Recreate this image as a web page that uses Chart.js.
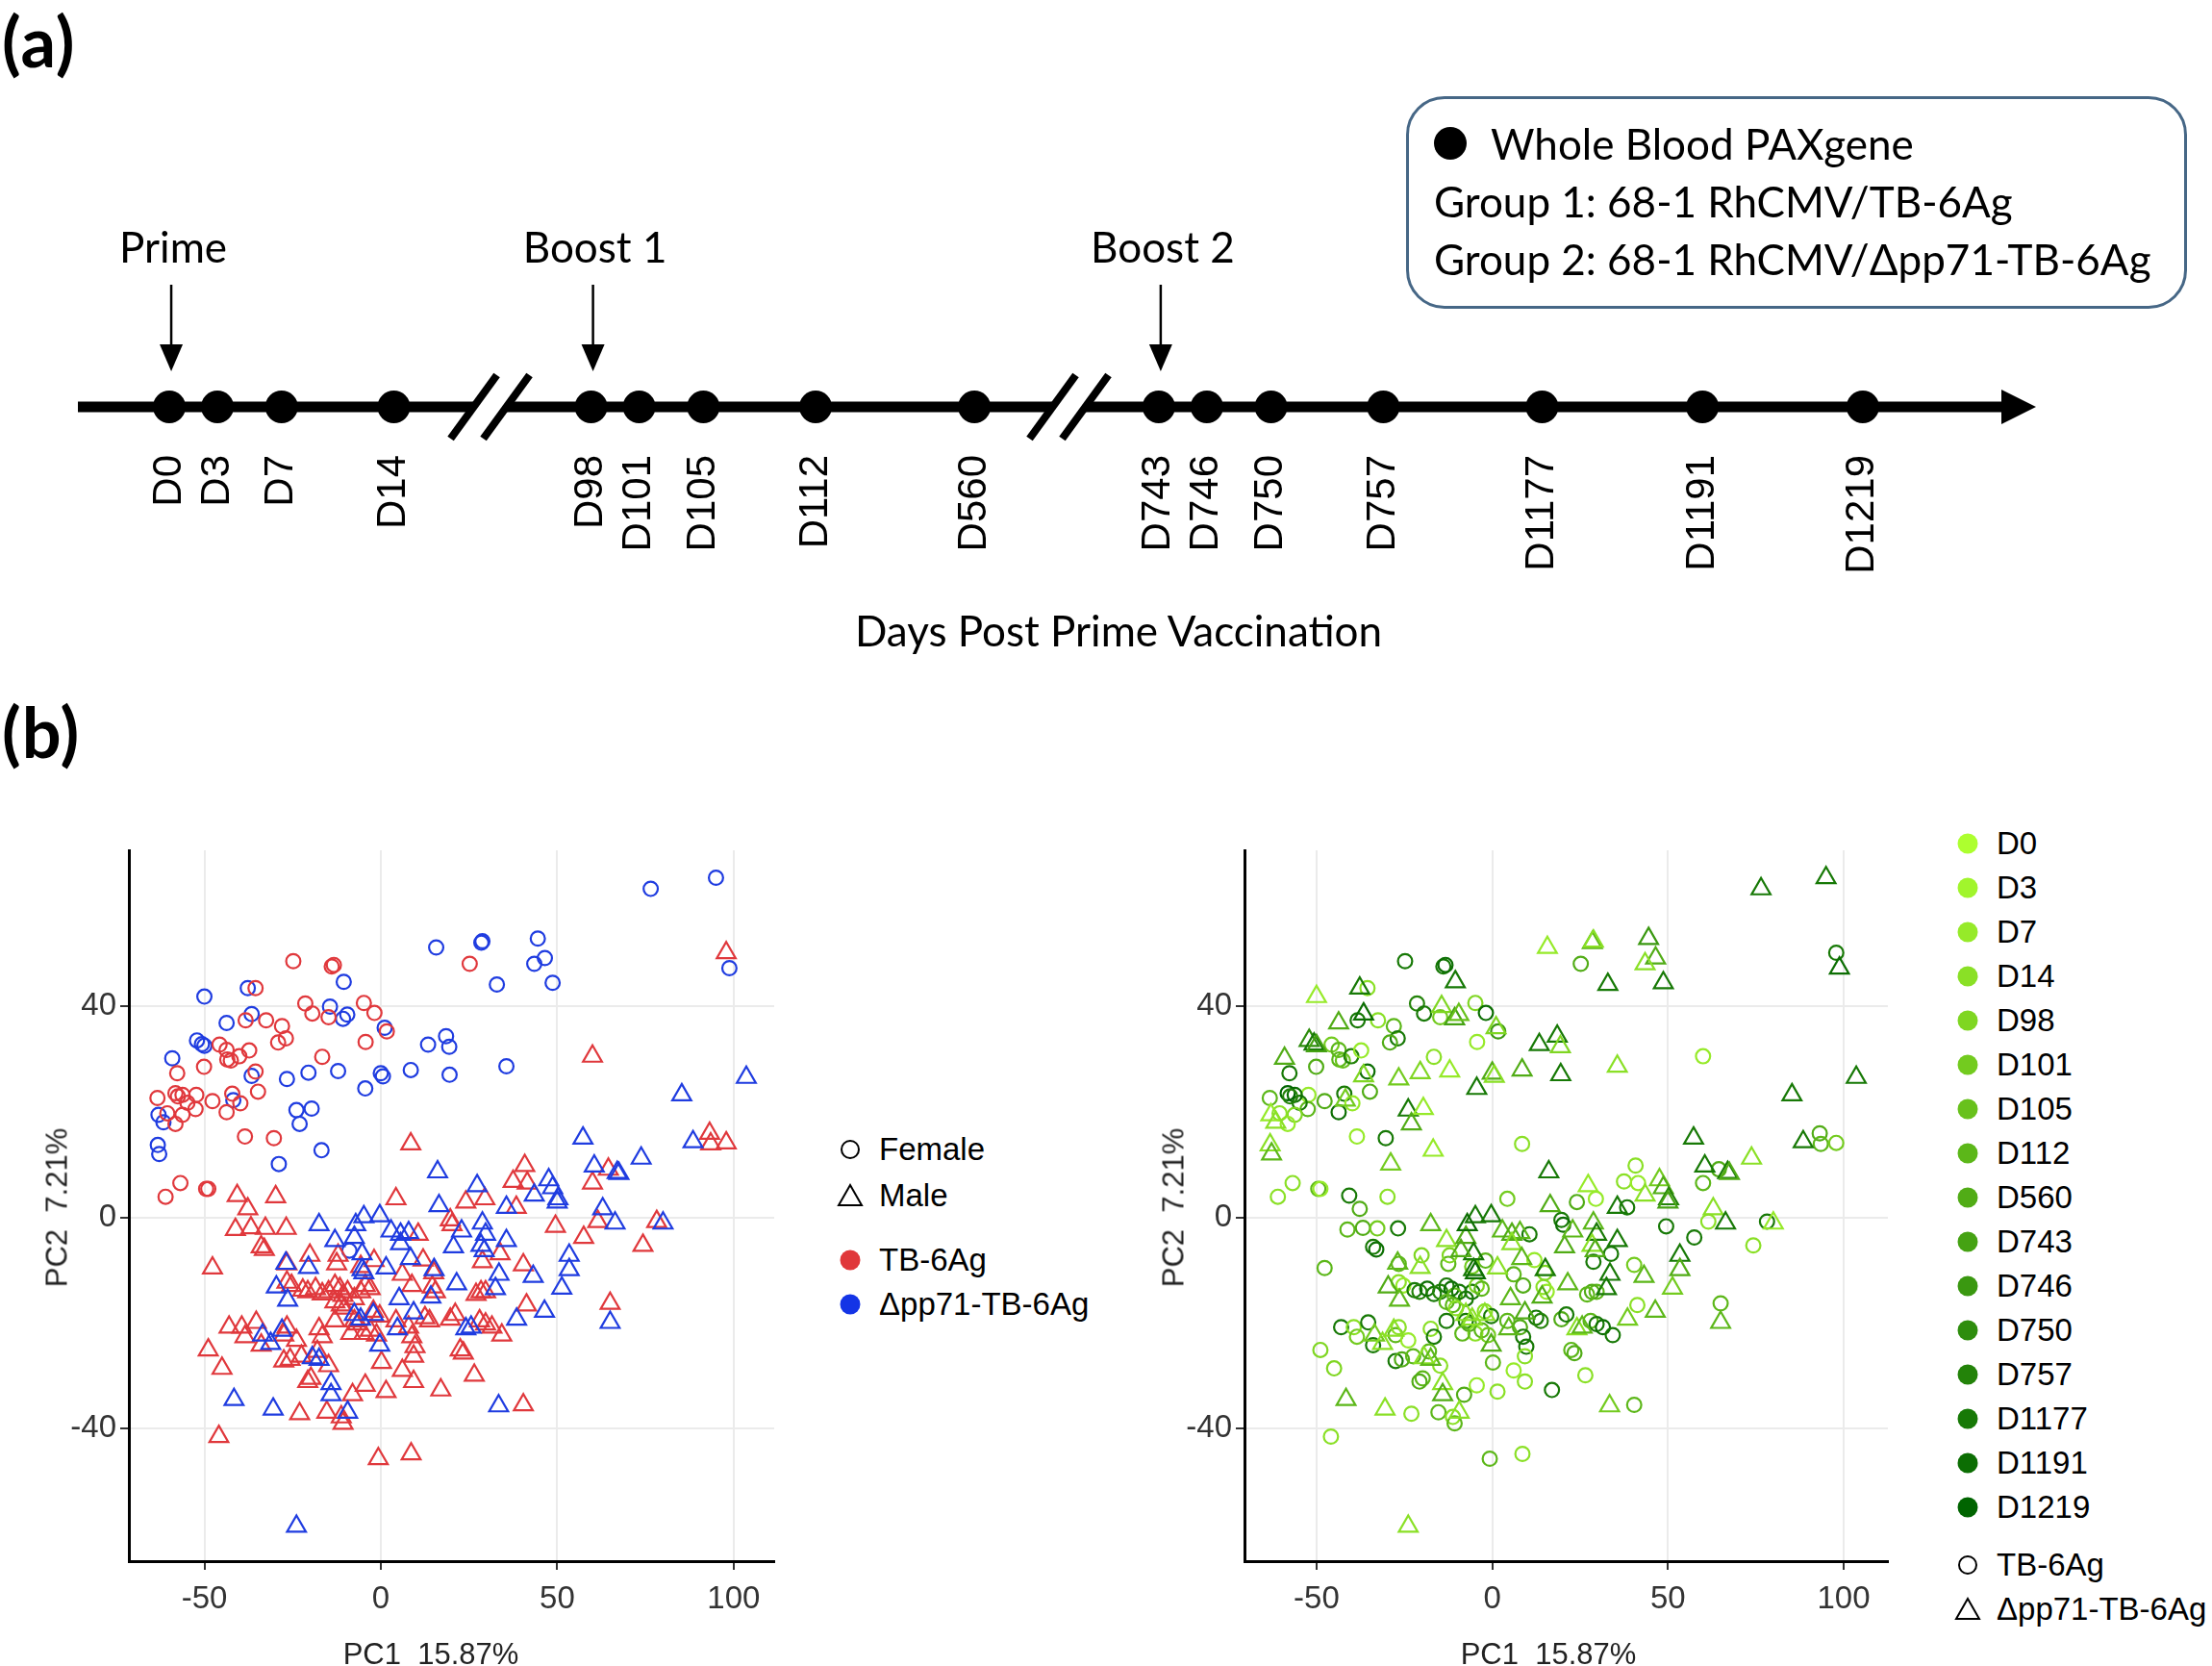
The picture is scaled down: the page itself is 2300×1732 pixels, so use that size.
<!DOCTYPE html>
<html>
<head>
<meta charset="utf-8">
<title>Sampling timeline and whole blood PCA</title>
<script src="https://cdn.jsdelivr.net/npm/chart.js@4.4.1/dist/chart.umd.min.js"></script>
<style>
  html, body { margin: 0; padding: 0; background: #fff; }
  body { position: relative; width: 2300px; height: 1732px; overflow: hidden; color: #000; font-family: 'Liberation Sans', Arial, sans-serif; }
  .abs { position: absolute; }
  .tag { font-family: Lato, sans-serif; font-weight: 700; font-size: 72px; line-height: 72px; letter-spacing: 1px; }
  .cal { font-family: Lato, sans-serif; font-size: 44px; line-height: 44px; white-space: nowrap; }
  #sampleBox { left: 1462px; top: 100px; width: 812px; height: 221px; box-sizing: border-box; border: 3px solid #466786; border-radius: 40px; }
  #sampleDot { left: 1491px; top: 132px; width: 34px; height: 34px; border-radius: 50%; background: #000; }
  .axis-title { font-size: 31px; line-height: 31px; color: #222; text-align: center; white-space: pre; width: 400px; }
  .leg { font-size: 33px; height: 46px; display: flex; align-items: center; white-space: nowrap; }
  .leg svg { flex: none; margin-right: 16px; }
</style>
</head>
<body>

<div class="abs tag" style="left:2px;top:6px">(a)</div>
<canvas id="timeline" class="abs" width="2300" height="846" style="left:0;top:0"></canvas>

<div id="sampleBox" class="abs"></div>
<div id="sampleDot" class="abs"></div>
<div class="abs cal" style="left:1550px;top:127px">Whole Blood PAXgene</div>
<div class="abs cal" style="left:1491px;top:187px">Group 1: 68-1 RhCMV/TB-6Ag</div>
<div class="abs cal" style="left:1491px;top:247px">Group 2: 68-1 RhCMV/Δpp71-TB-6Ag</div>
<div class="abs cal" style="left:763px;top:633px;width:800px;text-align:center">Days Post Prime Vaccination</div>

<div class="abs tag" style="left:2px;top:724px">(b)</div>

<canvas id="pcaLeft" class="abs" width="830" height="900" style="left:0;top:850px"></canvas>
<canvas id="pcaRight" class="abs" width="830" height="900" style="left:1160px;top:850px"></canvas>

<div class="abs axis-title" style="left:248px;top:1704px">PC1  15.87%</div>
<div class="abs axis-title" style="left:1410px;top:1704px">PC1  15.87%</div>
<div class="abs axis-title" style="left:-141px;top:1240px;transform:rotate(-90deg)">PC2  7.21%</div>
<div class="abs axis-title" style="left:1020px;top:1240px;transform:rotate(-90deg)">PC2  7.21%</div>

<div id="legendLeft"></div>
<div id="legendRight"></div>

<script>
// ---- panel (a): sampling schedule ----
const timepoints = ['D0', 'D3', 'D7', 'D14', 'D98', 'D101', 'D105', 'D112', 'D560',
                    'D743', 'D746', 'D750', 'D757', 'D1177', 'D1191', 'D1219'];
// schematic position of each sampling day on the broken time axis
const timelineX = [0, 3, 7, 14, 26.3, 29.3, 33.3, 40.3, 50.2,
                   61.7, 64.7, 68.7, 75.7, 85.6, 95.6, 105.6];
const breakX = [20.0, 56.1];
const doseLabels = ['Prime', 'Boost 1', 'Boost 2'];
const doseIndex = [0, 4, 9];

// ---- panel (b): PCA scores, [PC1, PC2, timepoint index] ----
const tbFemale = [
  [-24.8, 48.5, 13], [-13.9, 47.5, 13], [-13.3, 47.8, 14], [-35.5, 43.4, 3],
  [-21.4, 40.5, 12], [-19.4, 38.6, 13], [-14.8, 37.9, 5], [-4.8, 40.6, 4],
  [-1.8, 38.7, 14], [1.7, 35.2, 10], [-4.3, 33.2, 2], [-32.5, 37.3, 3],
  [-38.3, 37.3, 13], [-28.0, 36.2, 7], [-26.9, 33.9, 13], [-29.1, 33.1, 8],
  [-16.6, 30.4, 3], [-45.7, 32.7, 5], [-43.7, 31.7, 7], [-43.5, 29.9, 7],
  [-42.5, 29.7, 6], [-40.1, 30.5, 12], [-37.3, 31.6, 2], [-50.1, 28.5, 8],
  [-57.7, 27.3, 13], [-35.5, 27.6, 14], [-34.8, 23.8, 8], [-42.1, 23.4, 13],
  [-39.8, 21.6, 2], [-43.7, 19.9, 14], [-47.7, 22.0, 8], [-52.3, 23.2, 2],
  [-52.5, 20.5, 7], [-54.8, 21.7, 13], [-56.2, 23.2, 14], [-58.2, 23.5, 15],
  [-57.5, 22.9, 12], [-63.3, 22.6, 7], [-56.2, 19.4, 4], [-58.2, 17.7, 2],
  [-60.5, 19.7, 3], [-38.5, 15.3, 2], [-30.3, 15.0, 13], [-56.8, 6.5, 3],
  [-61.0, 3.9, 3], [-49.5, 5.4, 7], [-48.9, 5.4, 2], [25.2, 48.0, 8]
];

const dpFemale = [
  [15.7, 51.1, 2], [28.5, 52.0, 7], [28.8, 52.3, 3], [-50.0, 41.8, 2],
  [-37.7, 43.4, 13], [-10.5, 44.6, 13], [-14.4, 39.9, 4], [-10.7, 37.6, 9],
  [-9.5, 38.4, 6], [-36.6, 38.5, 14], [-43.7, 36.8, 8], [-52.1, 33.5, 11],
  [-50.7, 32.8, 13], [-50.0, 32.5, 9], [-59.1, 30.1, 8], [-36.6, 26.8, 4],
  [-26.6, 26.2, 5], [-20.5, 27.4, 4], [-12.1, 27.7, 2], [-4.4, 24.4, 13],
  [0.0, 27.3, 8], [0.6, 26.7, 3], [8.5, 27.9, 8], [13.4, 32.7, 13],
  [18.5, 34.3, 13], [19.4, 32.3, 4], [19.5, 27.0, 13], [1.1, 35.9, 4],
  [-41.8, 22.2, 5], [-23.9, 20.3, 13], [-19.6, 20.6, 2], [-23.0, 17.7, 8],
  [-16.8, 12.7, 2], [-28.9, 10.1, 5], [-63.0, 19.4, 2], [-61.6, 18.0, 3],
  [-63.2, 13.7, 3], [-62.8, 12.0, 7], [32.9, 44.1, 13], [44.5, 52.8, 10],
  [46.5, 49.1, 8], [43.5, 48.0, 3], [48.7, 44.4, 13], [76.5, 62.2, 13],
  [95.0, 64.3, 13], [98.8, 47.2, 14], [35.6, 28.6, 3], [-8.9, -6.3, 8]
];

const tbMale = [
  [8.5, 13.9, 3], [-40.7, 4.1, 13], [-29.8, 3.9, 3], [4.3, 3.5, 5],
  [24.1, 2.9, 8], [29.5, 3.5, 2], [-37.7, 1.6, 8], [97.9, 50.1, 13],
  [60.0, 30.5, 2], [93.2, 15.9, 8], [93.5, 13.9, 7], [97.9, 14.1, 5],
  [64.5, 9.1, 8], [40.8, 9.8, 3], [37.5, 6.8, 3], [41.5, 6.5, 2],
  [60.0, 6.5, 7], [38.4, 1.9, 13],
  [-41.2, -2.3, 7], [-36.8, -2.0, 8], [-32.7, -2.1, 5], [-26.8, -2.1, 13],
  [-33.9, -5.6, 13], [-33.0, -6.1, 14], [-47.7, -9.6, 7], [-20.1, -7.2, 4],
  [-26.6, -8.8, 7], [-12.5, -8.8, 7], [-12.1, -7.2, 4], [-1.9, -8.2, 7],
  [-5.7, -9.3, 5], [10.6, -3.2, 13], [19.7, -0.5, 13], [20.2, -1.4, 14],
  [12.0, -8.1, 2], [6.1, -10.8, 7], [8.8, -12.9, 8], [14.6, -13.2, 3],
  [15.5, -14.1, 2], [28.8, -8.4, 13], [29.7, -14.1, 7], [28.4, -14.1, 8],
  [-26.6, -12.3, 3], [-25.3, -12.9, 2], [-22.1, -13.8, 13], [-20.7, -14.1, 12],
  [-18.5, -13.5, 14], [-16.6, -14.5, 13], [-14.8, -14.1, 12], [-13.0, -12.9, 13],
  [-11.6, -13.5, 14], [-10.7, -14.8, 7], [-9.4, -14.1, 13], [-7.5, -15.4, 13],
  [-5.7, -14.1, 13], [-4.4, -12.9, 4], [-3.0, -13.5, 7], [-13.0, -16.0, 7],
  [-11.2, -16.6, 7], [-10.3, -17.2, 3], [-2.1, -17.8, 3], [-0.3, -18.7, 13],
  [-13.0, -19.6, 13], [-7.5, -19.6, 13], [-6.6, -20.2, 8], [-4.8, -22.0, 3],
  [-3.0, -21.4, 7], [-1.2, -22.3, 5], [-8.5, -22.0, 7], [-43.0, -20.8, 13],
  [-39.4, -20.8, 3], [-35.3, -19.9, 13], [-38.5, -22.6, 5], [-33.9, -24.2, 13],
  [-27.5, -22.3, 7], [-26.6, -20.8, 3], [-23.9, -23.3, 2], [-17.5, -21.1, 3],
  [-16.6, -22.6, 13], [-48.9, -25.1, 4], [-45.0, -28.6, 4], [-27.5, -27.2, 13],
  [-25.7, -26.9, 8], [-22.5, -26.3, 7], [-18.0, -25.4, 7], [-14.8, -28.1, 3],
  [-19.8, -30.5, 7], [-20.7, -31.1, 8], [0.2, -27.5, 7], [6.1, -29.0, 2],
  [9.3, -31.1, 3], [-4.4, -31.8, 2], [-8.0, -33.6, 8], [1.5, -33.0, 3],
  [17.0, -32.7, 13], [26.5, -29.9, 3], [-23.0, -37.2, 3], [-15.3, -36.9, 7],
  [-11.2, -37.8, 3], [-10.7, -39.0, 7], [22.5, -25.1, 7], [23.4, -25.7, 8],
  [4.3, -19.6, 7], [7.9, -20.8, 8], [8.8, -22.6, 13], [9.7, -24.5, 13],
  [9.3, -26.3, 3], [12.5, -19.0, 13], [13.8, -19.6, 12], [19.7, -19.3, 8],
  [21.1, -18.4, 13], [28.0, -19.6, 7], [29.7, -20.2, 13], [31.5, -20.8, 14],
  [15.0, -10.5, 4], [-45.9, -41.5, 3], [-0.7, -45.7, 7], [8.6, -44.8, 3],
  [27.0, -14.6, 7],
  [49.5, -1.7, 13], [57.5, -3.8, 13], [61.5, -0.8, 3], [78.2, -0.8, 13],
  [74.3, -5.3, 3], [33.8, -6.9, 13], [40.4, -9.0, 5], [41.3, -16.6, 3],
  [65.0, -16.3, 7], [34.3, -22.3, 13], [40.4, -35.5, 7]
];

const dpMale = [
  [16.1, 8.6, 13], [27.3, 6.0, 2], [16.5, 2.2, 8],
  [103.6, 26.5, 13], [85.3, 23.2, 13], [57.3, 15.0, 13], [88.5, 14.3, 13],
  [73.8, 11.2, 3], [60.5, 9.7, 13], [67.0, 8.5, 13], [67.5, 8.3, 8],
  [47.6, 7.1, 5], [48.7, 5.6, 8], [43.5, 4.2, 3], [50.2, 3.5, 12],
  [50.0, 2.9, 9], [35.6, 1.9, 13], [62.9, 1.6, 3],
  [-17.5, -1.4, 7], [-13.0, -4.4, 3], [-7.5, -3.8, 8], [-4.8, 0.1, 13],
  [-0.3, 0.3, 13], [-7.1, -1.4, 14], [-5.3, -6.9, 13], [-5.3, -9.9, 13],
  [-4.8, -10.5, 14], [2.9, -2.6, 7], [5.6, -3.2, 8], [7.9, -2.9, 7],
  [5.6, -5.0, 3], [1.5, -9.6, 3], [8.4, -7.8, 7], [20.6, -5.6, 8],
  [22.9, -2.6, 7], [28.8, -1.1, 7], [29.7, -3.2, 13], [28.4, -5.3, 3],
  [29.3, -6.3, 8], [21.5, -12.6, 7], [15.1, -9.9, 13], [14.2, -15.1, 8],
  [5.2, -15.4, 7], [9.3, -18.1, 8], [-29.6, -13.2, 8], [-26.9, -8.7, 7],
  [-20.5, -9.5, 3], [-26.4, -15.7, 7], [-33.5, -22.3, 5], [-31.2, -23.9, 3],
  [-28.0, -21.4, 3], [-19.4, -26.6, 3], [-17.5, -26.9, 7], [-7.5, -18.4, 3],
  [-5.7, -19.3, 3], [-2.1, -18.4, 3], [-0.3, -24.2, 8], [4.7, -21.1, 7],
  [-14.1, -31.5, 3], [-14.1, -33.6, 8], [-9.4, -36.9, 3], [-41.6, -34.5, 7],
  [-30.5, -36.3, 3], [24.1, -21.1, 3], [25.6, -20.8, 7], [-23.9, -58.5, 3],
  [66.4, -1.1, 13], [80.0, -1.1, 2], [53.4, -7.2, 13], [53.4, -9.9, 8],
  [51.3, -13.4, 5], [43.2, -11.2, 7], [33.5, -10.8, 13], [35.6, -4.4, 13],
  [32.5, -13.5, 13], [46.4, -17.8, 7], [38.5, -19.3, 5], [65.0, -19.9, 7],
  [33.4, -35.7, 5]
];

const xTicks = [-50, 0, 50, 100];
const yTicks = [-40, 0, 40];

// colour per sampling day, light (D0) to dark (D1219)
const timeColors = ['#adff2f', '#a1f52c', '#96ea29', '#8ae026', '#7fd622', '#73cb1f',
                    '#68c11c', '#5cb719', '#51ac16', '#45a213', '#3a9810', '#2e8d0d',
                    '#238309', '#177906', '#0c6e03', '#006400'];
const groupColors = { tb: '#e0383c', dp: '#1f3ce0' };
const groupLegendColors = { tb: '#e0373a', dp: '#1434e6' };

Chart.defaults.font.family = "'Liberation Sans', Arial, sans-serif";

// ============================================
// Panel (a) - timeline
// ============================================

const timelineDecor = {
  id: 'timelineDecor',
  beforeDatasetsDraw(chart) {
    const { ctx, chartArea, scales: { x, y } } = chart;
    const y0 = y.getPixelForValue(0);
    ctx.save();
    // main axis with arrow head
    ctx.strokeStyle = '#000';
    ctx.lineWidth = 11;
    ctx.beginPath();
    ctx.moveTo(chartArea.left, y0);
    ctx.lineTo(chartArea.right - 30, y0);
    ctx.stroke();
    ctx.fillStyle = '#000';
    ctx.beginPath();
    ctx.moveTo(chartArea.right, y0);
    ctx.lineTo(chartArea.right - 36, y0 - 18);
    ctx.lineTo(chartArea.right - 36, y0 + 18);
    ctx.closePath();
    ctx.fill();

    // axis breaks  //
    breakX.forEach(v => {
      const cx = x.getPixelForValue(v);
      ctx.fillStyle = '#fff';
      ctx.beginPath();
      ctx.moveTo(cx - 17 - 12, y0 + 16);
      ctx.lineTo(cx - 17 + 12, y0 - 16);
      ctx.lineTo(cx + 17 + 12, y0 - 16);
      ctx.lineTo(cx + 17 - 12, y0 + 16);
      ctx.closePath();
      ctx.fill();
      ctx.strokeStyle = '#000';
      ctx.lineWidth = 8;
      [-17, 17].forEach(off => {
        ctx.beginPath();
        ctx.moveTo(cx + off - 24, y0 + 33);
        ctx.lineTo(cx + off + 24, y0 - 33);
        ctx.stroke();
      });
    });
    ctx.restore();
  },
  afterDatasetsDraw(chart) {
    const { ctx, scales: { x, y } } = chart;
    const y0 = y.getPixelForValue(0);
    ctx.save();
    ctx.fillStyle = '#000';

    // sampling day labels, rotated
    ctx.font = "42px 'Liberation Sans', Arial, sans-serif";
    ctx.textAlign = 'right';
    ctx.textBaseline = 'middle';
    timepoints.forEach((label, i) => {
      const px = x.getPixelForValue(timelineX[i]);
      ctx.save();
      ctx.translate(px, y0 + 50);
      ctx.rotate(-Math.PI / 2);
      ctx.fillText(label, 0, 0);
      ctx.restore();
    });

    // vaccination arrows
    ctx.font = '44px Lato, sans-serif';
    ctx.textAlign = 'center';
    ctx.textBaseline = 'alphabetic';
    doseIndex.forEach((idx, k) => {
      const px = x.getPixelForValue(timelineX[idx]);
      ctx.fillText(doseLabels[k], px + 4, y0 - 150);
      ctx.strokeStyle = '#000';
      ctx.lineWidth = 2.5;
      ctx.beginPath();
      ctx.moveTo(px + 2, y0 - 127);
      ctx.lineTo(px + 2, y0 - 62);
      ctx.stroke();
      ctx.beginPath();
      ctx.moveTo(px + 2, y0 - 37);
      ctx.lineTo(px - 10, y0 - 65);
      ctx.lineTo(px + 14, y0 - 65);
      ctx.closePath();
      ctx.fill();
    });
    ctx.restore();
  }
};

new Chart(document.getElementById('timeline'), {
  type: 'scatter',
  data: {
    datasets: [{
      data: timelineX.map(v => ({ x: v, y: 0 })),
      pointRadius: 17,
      pointBackgroundColor: '#000',
      pointBorderWidth: 0,
      clip: false
    }]
  },
  options: {
    responsive: false,
    animation: false,
    devicePixelRatio: 1,
    events: [],
    layout: { padding: { left: 81, right: 183, top: 0, bottom: 0 } },
    plugins: { legend: { display: false }, tooltip: { enabled: false } },
    scales: {
      x: { type: 'linear', min: -5.7, max: 116.4, display: false },
      y: { type: 'linear', min: -1, max: 1, display: false }
    }
  },
  plugins: [timelineDecor]
});

// ============================================
// Panel (b) - PCA scatter plots
// ============================================

function toPoints(rows) {
  return rows.map(r => ({ x: r[0], y: r[1] }));
}

function pcaOptions(xMin, xMax, padRight) {
  const axisFont = { size: 33 };
  return {
    responsive: false,
    animation: false,
    devicePixelRatio: 1,
    events: [],
    layout: { padding: { left: 0, right: padRight, top: 34, bottom: 0 } },
    plugins: { legend: { display: false }, tooltip: { enabled: false } },
    scales: {
      x: {
        type: 'linear',
        min: xMin,
        max: xMax,
        afterBuildTicks: s => { s.ticks = xTicks.map(v => ({ value: v })); },
        afterFit: s => { s.height = 127; },
        grid: { color: '#ebebeb', lineWidth: 2, drawTicks: true, tickLength: 9, tickColor: '#333', tickWidth: 2 },
        border: { display: true, color: '#000', width: 3 },
        ticks: { color: '#333', font: axisFont, padding: 11, maxRotation: 0, autoSkip: false }
      },
      y: {
        type: 'linear',
        min: -65.1,
        max: 69.5,
        afterBuildTicks: s => { s.ticks = yTicks.map(v => ({ value: v })); },
        afterFit: s => { s.width = 134; },
        grid: { color: '#ebebeb', lineWidth: 2, drawTicks: true, tickLength: 9, tickColor: '#333', tickWidth: 2 },
        border: { display: true, color: '#000', width: 3 },
        ticks: { color: '#333', font: axisFont, padding: 4, autoSkip: false }
      }
    }
  };
}

const circle = { pointStyle: 'circle', pointRadius: 7.4 };
const triangle = { pointStyle: 'triangle', pointRadius: 11.3 };

function groupSet(rows, shape, color) {
  return Object.assign({
    data: toPoints(rows),
    pointBorderColor: color,
    pointBackgroundColor: 'rgba(0,0,0,0)',
    pointBorderWidth: 2.2
  }, shape);
}

function timeSet(rows, shape) {
  return Object.assign({
    data: toPoints(rows),
    pointBorderColor: rows.map(r => timeColors[r[2]]),
    pointBackgroundColor: 'rgba(0,0,0,0)',
    pointBorderWidth: 2.2
  }, shape);
}

// left: colour = vaccine, shape = sex
new Chart(document.getElementById('pcaLeft'), {
  type: 'scatter',
  data: {
    datasets: [
      groupSet(dpMale, triangle, groupColors.dp),
      groupSet(tbMale, triangle, groupColors.tb),
      groupSet(tbFemale, circle, groupColors.tb),
      groupSet(dpFemale, circle, groupColors.dp)
    ]
  },
  options: pcaOptions(-71.4, 111.5, 25)
});

// right: colour = sampling day, shape = vaccine
new Chart(document.getElementById('pcaRight'), {
  type: 'scatter',
  data: {
    datasets: [
      timeSet(dpMale.concat(dpFemale), triangle),
      timeSet(tbMale.concat(tbFemale), circle)
    ]
  },
  options: pcaOptions(-70.5, 112.6, 27)
});

// ============================================
// Legends (HTML)
// ============================================

const svgOpenCircle = '<svg width="28" height="28"><circle cx="14" cy="14" r="9" fill="none" stroke="#000" stroke-width="2"/></svg>';
const svgOpenTriangle = '<svg width="28" height="28"><polygon points="14,3 26,24 2,24" fill="none" stroke="#000" stroke-width="2"/></svg>';
function svgDot(color) {
  return '<svg width="28" height="28"><circle cx="14" cy="14" r="10.5" fill="' + color + '"/></svg>';
}

function legendRow(left, centerY, symbol, text) {
  const row = document.createElement('div');
  row.className = 'abs leg';
  row.style.left = left + 'px';
  row.style.top = (centerY - 23) + 'px';
  row.innerHTML = symbol + '<span>' + text + '</span>';
  return row;
}

const legendLeft = document.getElementById('legendLeft');
legendLeft.appendChild(legendRow(870, 1195, svgOpenCircle, 'Female'));
legendLeft.appendChild(legendRow(870, 1243, svgOpenTriangle, 'Male'));
legendLeft.appendChild(legendRow(870, 1310, svgDot(groupLegendColors.tb), 'TB-6Ag'));
legendLeft.appendChild(legendRow(870, 1356, svgDot(groupLegendColors.dp), 'Δpp71-TB-6Ag'));

const legendRight = document.getElementById('legendRight');
timepoints.forEach((label, i) => {
  legendRight.appendChild(legendRow(2032, 877 + 46 * i, svgDot(timeColors[i]), label));
});
legendRight.appendChild(legendRow(2032, 1627, svgOpenCircle, 'TB-6Ag'));
legendRight.appendChild(legendRow(2032, 1673, svgOpenTriangle, 'Δpp71-TB-6Ag'));
</script>
</body>
</html>
